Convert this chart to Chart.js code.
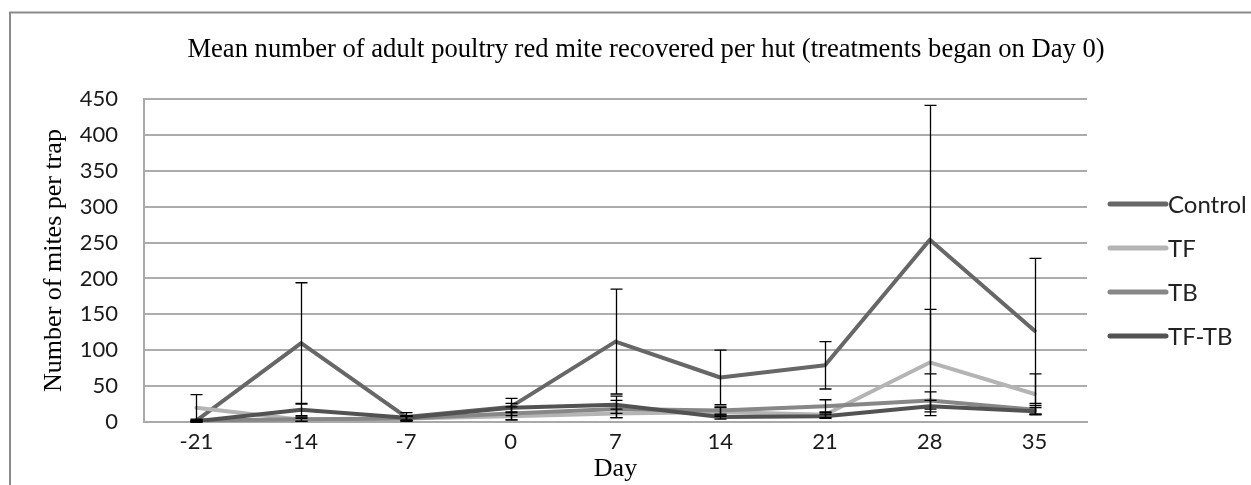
<!DOCTYPE html>
<html>
<head>
<meta charset="utf-8">
<script src="https://cdn.jsdelivr.net/npm/chart.js@4/dist/chart.umd.min.js"></script>
<style>
  html, body { margin: 0; padding: 0; background: #ffffff; }
  #wrap { width: 1251px; height: 485px; position: relative; }
</style>
</head>
<body>
<div id="wrap"><canvas id="chart" width="1251" height="485"></canvas></div>
<script>
// Sampling days (treatments began on day 0)
const days = ['-21', '-14', '-7', '0', '7', '14', '21', '28', '35'];

// Mean adult mites per trap, by treatment
const control = [2, 110, 7, 21, 112, 62, 79, 254, 127];
const tf      = [20, 3, 5, 8, 12, 14, 10, 83, 39];
const tb      = [2, 4, 5, 12, 18, 16, 22, 30, 17];
const tftb    = [1, 17, 6, 20, 24, 7, 8, 22, 15];

// Standard deviations for the error bars
const controlErr = [1, 84, 6, 12, 73, 38, 33, 187, 101];
const tfErr      = [18, 2, 3, 5, 6, 6, 4, 74, 28];
const tbErr      = [2, 3, 3, 9, 12, 5, 9, 12, 6];
const tftbErr    = [1, 8, 3, 6, 12, 3, 3, 8, 5];

// Value axis ticks
const yTicks = [0, 50, 100, 150, 200, 250, 300, 350, 400, 450];

const seriesNames = ['Control', 'TF', 'TB', 'TF-TB'];
const seriesColors = ['#676767', '#b4b4b4', '#878787', '#525252'];
const seriesValues = [control, tf, tb, tftb];
const seriesErrors = [controlErr, tfErr, tbErr, tftbErr];

const titleText = 'Mean number of adult poultry red mite recovered per hut (treatments began on Day 0)';
const serif = '"Liberation Serif", "Times New Roman", serif';
const sans = 'Lato, "Open Sans", sans-serif';

const decorations = {
  id: 'decorations',
  beforeDraw(chart) {
    const ctx = chart.ctx;
    ctx.save();
    ctx.fillStyle = '#ffffff';
    ctx.fillRect(0, 0, chart.width, chart.height);
    // outer frame
    ctx.strokeStyle = '#8a8a8a';
    ctx.lineWidth = 2;
    ctx.strokeRect(10, 12.5, chart.width + 20, chart.height + 20);
    ctx.restore();
  },
  afterDatasetsDraw(chart) {
    const ctx = chart.ctx;
    const yScale = chart.scales.y;
    ctx.save();
    ctx.strokeStyle = '#000000';
    ctx.lineWidth = 1.3;
    chart.data.datasets.forEach((ds, i) => {
      const meta = chart.getDatasetMeta(i);
      const errs = seriesErrors[i];
      meta.data.forEach((pt, j) => {
        const v = ds.data[j];
        const e = errs[j];
        const x = Math.round(pt.x) + 0.5;
        const yTop = yScale.getPixelForValue(v + e);
        const yBot = yScale.getPixelForValue(Math.max(0, v - e));
        ctx.beginPath();
        ctx.moveTo(x, yTop);
        ctx.lineTo(x, yBot);
        ctx.moveTo(x - 6, yTop);
        ctx.lineTo(x + 6, yTop);
        ctx.moveTo(x - 6, yBot);
        ctx.lineTo(x + 6, yBot);
        ctx.stroke();
      });
    });
    ctx.restore();
  },
  afterDraw(chart) {
    const ctx = chart.ctx;
    ctx.save();
    // chart title
    ctx.fillStyle = '#000000';
    ctx.font = '26.6px ' + serif;
    ctx.textAlign = 'center';
    ctx.textBaseline = 'middle';
    ctx.fillText(titleText, 646, 50);

    // legend
    const lx0 = 1110, lx1 = 1166, ly0 = 204, dy = 44;
    ctx.font = '24px ' + sans;
    ctx.textAlign = 'left';
    ctx.lineCap = 'round';
    chart.data.datasets.forEach((ds, i) => {
      const y = ly0 + i * dy;
      ctx.strokeStyle = ds.borderColor;
      ctx.lineWidth = 5;
      ctx.beginPath();
      ctx.moveTo(lx0, y);
      ctx.lineTo(lx1, y);
      ctx.stroke();
      ctx.fillStyle = '#222222';
      ctx.fillText(ds.label, lx1 + 2, y + 1);
    });
    ctx.restore();
  }
};

const datasets = seriesNames.map((name, i) => ({
  label: name,
  data: seriesValues[i],
  borderColor: seriesColors[i],
  backgroundColor: seriesColors[i],
  borderWidth: 4,
  borderCapStyle: 'round',
  borderJoinStyle: 'round',
  pointRadius: 0,
  pointHoverRadius: 0,
  tension: 0,
  fill: false,
  order: seriesNames.length - 1 - i
}));

new Chart(document.getElementById('chart'), {
  type: 'line',
  data: { labels: days, datasets },
  options: {
    responsive: false,
    animation: false,
    devicePixelRatio: 1,
    layout: { padding: { top: 99, right: 164, bottom: 0, left: 0 } },
    plugins: {
      legend: { display: false },
      title: { display: false },
      tooltip: { enabled: false }
    },
    scales: {
      x: {
        type: 'category',
        offset: true,
        grid: { display: false, drawTicks: false },
        border: { display: true, color: '#a9a9a9', width: 2 },
        ticks: {
          color: '#1a1a1a',
          font: { family: sans, size: 22 },
          padding: 7,
          maxRotation: 0,
          autoSkip: false
        },
        title: {
          display: true,
          text: 'Day',
          color: '#000000',
          font: { family: serif, size: 26 },
          padding: { top: 0, bottom: 0 }
        },
        afterFit(scale) { scale.height = 63; }
      },
      y: {
        min: 0,
        max: 450,
        afterBuildTicks(scale) { scale.ticks = yTicks.map(v => ({ value: v })); },
        grid: { color: '#acacac', lineWidth: 2, drawTicks: false },
        border: { display: true, color: '#a9a9a9', width: 2 },
        ticks: {
          color: '#1a1a1a',
          font: { family: sans, size: 22 },
          padding: 26
        },
        title: {
          display: true,
          text: 'Number of mites per trap',
          color: '#000000',
          font: { family: serif, size: 26 },
          padding: { top: 39, bottom: 0 }
        },
        afterFit(scale) { scale.width = 144; }
      }
    }
  },
  plugins: [decorations]
});
</script>
</body>
</html>
